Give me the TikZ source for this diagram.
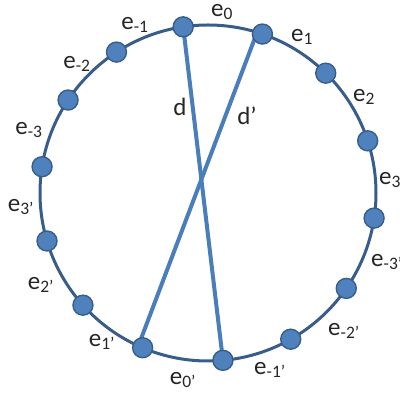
\documentclass[tikz,border=0pt]{standalone}
\usepackage{fontspec}
\setmainfont{Carlito}
\usetikzlibrary{backgrounds}
\definecolor{ringblue}{RGB}{56,93,138}
\definecolor{dotblue}{RGB}{79,129,189}
\definecolor{chordblue}{RGB}{74,126,187}

\begin{document}
\begin{tikzpicture}[x=1pt,y=1pt,
 dot/.style={circle,draw=ringblue,fill=dotblue,line width=1.4pt,minimum size=20pt,inner sep=0pt},
 lab/.style={font=\fontsize{25}{30}\selectfont,inner sep=0pt,text=black!85},
 ring/.style={draw=ringblue,line width=3pt},
 chord/.style={draw=chordblue,line width=4pt}]
\useasboundingbox (0,0) rectangle (400,398);
\coordinate (c) at (208,205);
% dots on the cycle, clockwise from the top
\begin{scope}[shift={(c)}]
\node[dot] (v1) at (98.5:168) {};
\node[dot] (v2) at (71.1:168) {};
\node[dot] (v3) at (45.5:168) {};
\node[dot] (v4) at (18.1:168) {};
\node[dot] (v5) at (-8.6:168) {};
\node[dot] (v6) at (-34.6:168) {};
\node[dot] (v7) at (-60.5:168) {};
\node[dot] (v8) at (-84.9:168) {};
\node[dot] (v9) at (-112.9:168) {};
\node[dot] (v10) at (-138.1:168) {};
\node[dot] (v11) at (-163.4:168) {};
\node[dot] (v12) at (171.0:168) {};
\node[dot] (v13) at (146.4:168) {};
\node[dot] (v14) at (123.0:168) {};
\end{scope}
\begin{scope}[on background layer]
\draw[ring] (c) circle[radius=168pt];
\draw[chord] (v1.center) -- (v8.center);
\draw[chord] ([xshift=-6pt]v2.center) -- ([xshift=-5pt]v9.center);
\end{scope}
% edge labels
\node[lab] (em1) at (135,373) {e\textsubscript{-1}};
\node[lab] (e0) at (222,386) {e\textsubscript{0}};
\node[lab] (e1) at (302,361) {e\textsubscript{1}};
\node[lab] (e2) at (364,301) {e\textsubscript{2}};
\node[lab] (e3) at (390,218) {e\textsubscript{3}};
\node[lab] (em3p) at (387,136) {e\textsubscript{-3’}};
\node[lab] (em2p) at (344,67) {e\textsubscript{-2’}};
\node[lab] (em1p) at (270,28) {e\textsubscript{-1’}};
\node[lab] (e0p) at (183,18) {e\textsubscript{0’}};
\node[lab] (e1p) at (102,56) {e\textsubscript{1’}};
\node[lab] (e2p) at (41,113) {e\textsubscript{2’}};
\node[lab] (e3p) at (21,191) {e\textsubscript{3’}};
\node[lab] (em3) at (29,268) {e\textsubscript{-3}};
\node[lab] (em2) at (77,334) {e\textsubscript{-2}};
\node[lab] (dl) at (180,291) {d};
\node[lab] (dpl) at (247,282) {d’};
\end{tikzpicture}
\end{document}
